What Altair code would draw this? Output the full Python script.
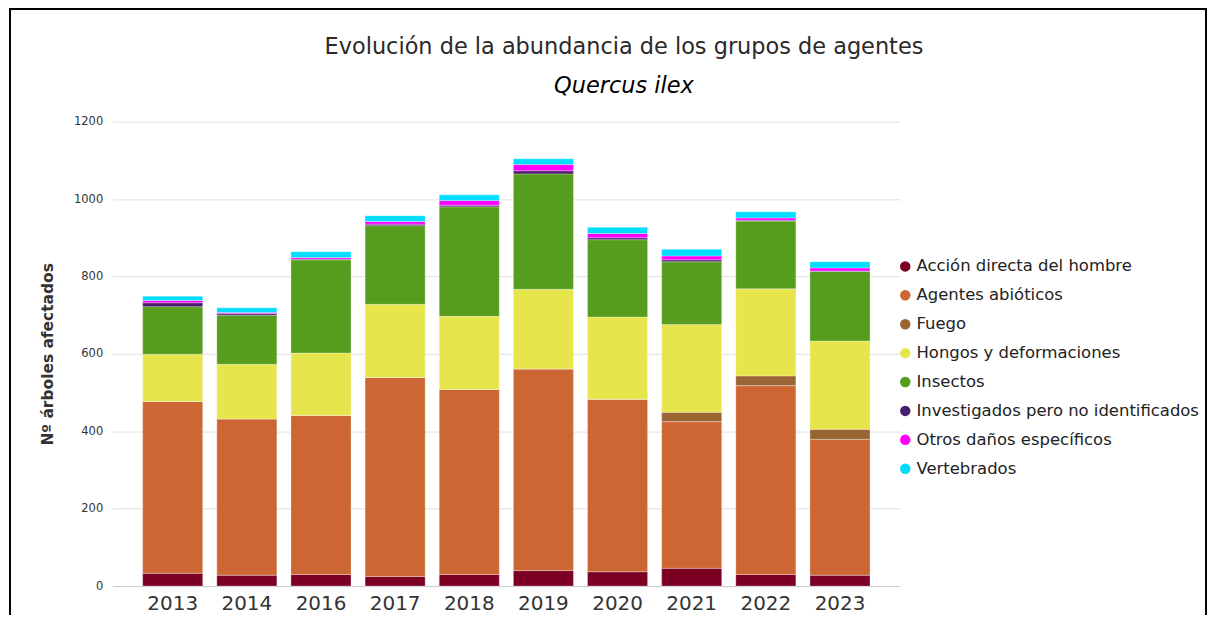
import altair as alt
import pandas as pd

years = ["2013", "2014", "2016", "2017", "2018", "2019", "2020", "2021", "2022", "2023"]
categories = [
    "Acción directa del hombre",
    "Agentes abióticos",
    "Fuego",
    "Hongos y deformaciones",
    "Insectos",
    "Investigados pero no identificados",
    "Otros daños específicos",
    "Vertebrados",
]
colors = ["#7B0023", "#CC6633", "#996633", "#E6E64C", "#569C1D", "#4B1E6B", "#FF00FF", "#00DDFF"]

accion = [33, 28, 30, 25, 30, 40, 37, 46, 30, 28]
abioticos = [444, 404, 411, 514, 478, 521, 445, 379, 488, 351]
fuego = [0, 0, 0, 0, 0, 0, 1, 24, 25, 26]
hongos = [122, 141, 161, 189, 189, 206, 212, 227, 225, 228]
insectos = [123, 127, 241, 203, 283, 298, 200, 162, 175, 180]
investigados = [10, 4, 2, 4, 4, 8, 5, 5, 2, 1]
otros = [6, 3, 4, 7, 12, 16, 11, 10, 6, 8]
vertebrados = [11, 12, 15, 15, 15, 15, 16, 17, 16, 16]

series = [accion, abioticos, fuego, hongos, insectos, investigados, otros, vertebrados]
rows = []
for ci, (cat, vals) in enumerate(zip(categories, series)):
    for y, v in zip(years, vals):
        rows.append({"year": y, "agente": cat, "value": v, "ord": ci})
df = pd.DataFrame(rows)

W, H = 790, 466
PL, PT, PR, PB = 105, 113, 310, 28

bars = alt.Chart(df).mark_bar(stroke="white", strokeWidth=0.6, strokeOpacity=0.5).encode(
    x=alt.X("year:N", sort=years,
            scale=alt.Scale(paddingInner=0.19, paddingOuter=0.405),
            axis=alt.Axis(title=None, labelAngle=0, ticks=False, grid=False, domainColor="#cccccc",
                          labelFontSize=20, labelFont="DejaVu Sans", labelColor="#333333",
                          labelPadding=7)),
    y=alt.Y("value:Q", stack="zero",
            scale=alt.Scale(domain=[0, 1200], nice=False),
            axis=alt.Axis(values=[0, 200, 400, 600, 800, 1000, 1200], format="d",
                          title="Nº árboles afectados", titleFontSize=15.5, titleFont="DejaVu Sans",
                          titleFontWeight="bold", titleColor="#333333", titlePadding=18,
                          labelFontSize=11.5, labelFont="DejaVu Sans", labelColor="#333333",
                          domain=False, ticks=False, labelPadding=10, gridColor="#e0e0e0")),
    color=alt.Color("agente:N", sort=categories,
                    scale=alt.Scale(domain=categories, range=colors),
                    legend=alt.Legend(orient="none", legendX=787, legendY=137, title=None,
                                      symbolType="circle", symbolSize=110, symbolStrokeWidth=0,
                                      labelFontSize=16.5, labelFont="DejaVu Sans", labelColor="#222222",
                                      rowPadding=12, labelOffset=3, labelLimit=400)),
    order=alt.Order("ord:Q", sort="ascending"),
)

frame = alt.Chart(alt.Data(values=[{}])).mark_rect(
    filled=False, stroke="black", strokeWidth=2, clip=False
).encode(
    x=alt.value(-103), x2=alt.value(1097), y=alt.value(-113), y2=alt.value(700)
)

chart = alt.layer(bars, frame).properties(
    width=W, height=H,
    autosize=alt.AutoSizeParams(type="none"),
    padding={"left": PL, "top": PT, "right": PR, "bottom": PB},
    view=alt.ViewBackground(stroke="transparent", strokeWidth=0),
    title=alt.TitleParams(
        text="Evolución de la abundancia de los grupos de agentes",
        subtitle="Quercus ilex",
        font="DejaVu Sans", fontSize=22.5, fontWeight="normal", color="#2a2a2a",
        subtitleFont="DejaVu Sans", subtitleFontSize=22.5, subtitleFontStyle="italic",
        subtitleColor="#000000", subtitlePadding=17,
        anchor="middle", dx=118, offset=-90,
    ),
).configure_view(stroke="transparent", strokeWidth=0).configure_axisX(grid=False).configure(background="white")

chart.save("out.html", embed_options={"renderer": "svg", "actions": False})
